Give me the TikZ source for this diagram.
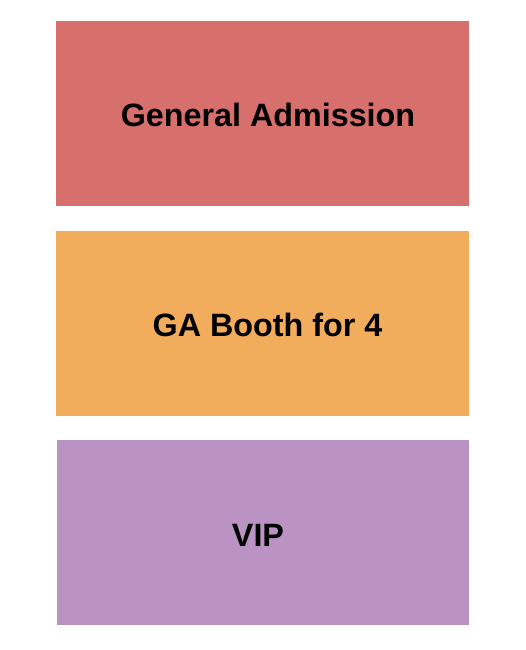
\documentclass[tikz,border=0pt]{standalone}
\usepackage{fontspec}
\setmainfont{Liberation Sans}
\usetikzlibrary{positioning}
\definecolor{gared}{HTML}{D76F6D}
\definecolor{boothorange}{HTML}{F2AD5C}
\definecolor{vippurple}{HTML}{BA93C2}
\begin{document}
\begin{tikzpicture}[x=1pt,y=1pt]

\tikzstyle{sec} = [shape=rectangle, inner sep=0pt, minimum width=413pt, minimum height=185pt]
\tikzstyle{t} = [font=\fontsize{32.3}{36}\selectfont\bfseries, inner sep=0pt]

\useasboundingbox (0,0) rectangle (525,-650);

\node[sec, fill=gared] (ga) at (262.5,-113.5) {};
\node[sec, fill=boothorange] (booth) at (262.5,-323) {};
\node[sec, fill=vippurple, minimum width=412pt] (vip) at (263,-532.5) {};

\node[t] (galab) at ([xshift=5.5pt,yshift=-1.5pt]ga.center) {General Admission};
\node[t] (boothlab) at ([xshift=5pt,yshift=-2pt]booth.center) {GA Booth for 4};
\node[t] (viplab) at ([xshift=-5pt,yshift=-2.5pt]vip.center) {VIP};

\end{tikzpicture}
\end{document}
